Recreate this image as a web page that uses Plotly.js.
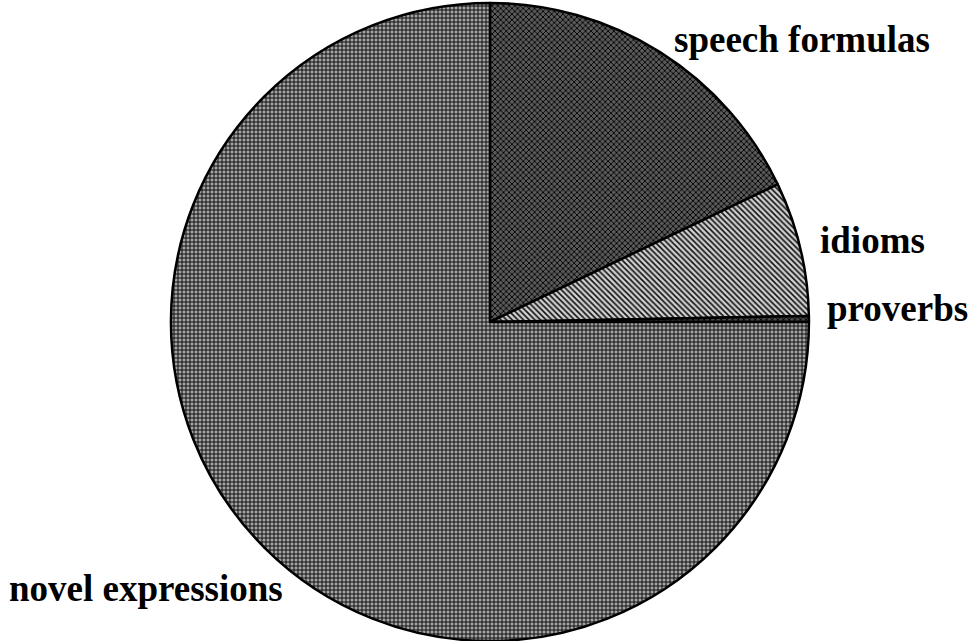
<!DOCTYPE html>
<html>
<head>
<meta charset="utf-8">
<script src="https://cdn.plot.ly/plotly-3.0.1.min.js"></script>
<style>html,body{margin:0;padding:0;background:#fff;}#chart{width:975px;height:641px;}</style>
</head>
<body>
<div id="chart"></div>
<script>
const categories = ["speech formulas", "idioms", "proverbs", "novel expressions"];
const shares = [17.9, 6.8, 0.3, 75.0];

const bgColors = ["#5a5a5a", "#d0d0d0", "#4a4a4a", "#a4a4a4"];
const fgColors = ["#000000", "#111111", "#000000", "#000000"];
const shapes = ["x", "\\", "x", "+"];

// label placement in pixels — text comes from categories
const labelX = [672, 818, 825, 7];
const labelY = [37, 239, 307, 588];

const trace = {
  type: "pie",
  labels: categories,
  values: shares,
  sort: false,
  direction: "clockwise",
  rotation: 0,
  textinfo: "none",
  hoverinfo: "none",
  showlegend: false,
  marker: {
    colors: bgColors,
    line: {color: "#000", width: 2.5},
    pattern: {shape: shapes, fgcolor: fgColors, bgcolor: bgColors, size: 4, solidity: 0.4}
  },
  domain: {x: [0.1, 0.905], y: [0, 1]}
};

const annotations = categories.map((c, i) => ({
  text: "<b>" + c + "</b>",
  xref: "paper", yref: "paper",
  x: labelX[i] / 975, y: 1 - labelY[i] / 641,
  xanchor: "left", yanchor: "middle",
  showarrow: false,
  font: {family: "Liberation Serif, Times New Roman, serif", size: 37, color: "#000"}
}));

const layout = {
  width: 975, height: 641,
  margin: {l: 0, r: 0, t: 3, b: 0},
  paper_bgcolor: "#fff",
  plot_bgcolor: "#fff",
  showlegend: false,
  annotations: annotations
};

Plotly.newPlot("chart", [trace], layout, {displayModeBar: false, staticPlot: true});
</script>
</body>
</html>
